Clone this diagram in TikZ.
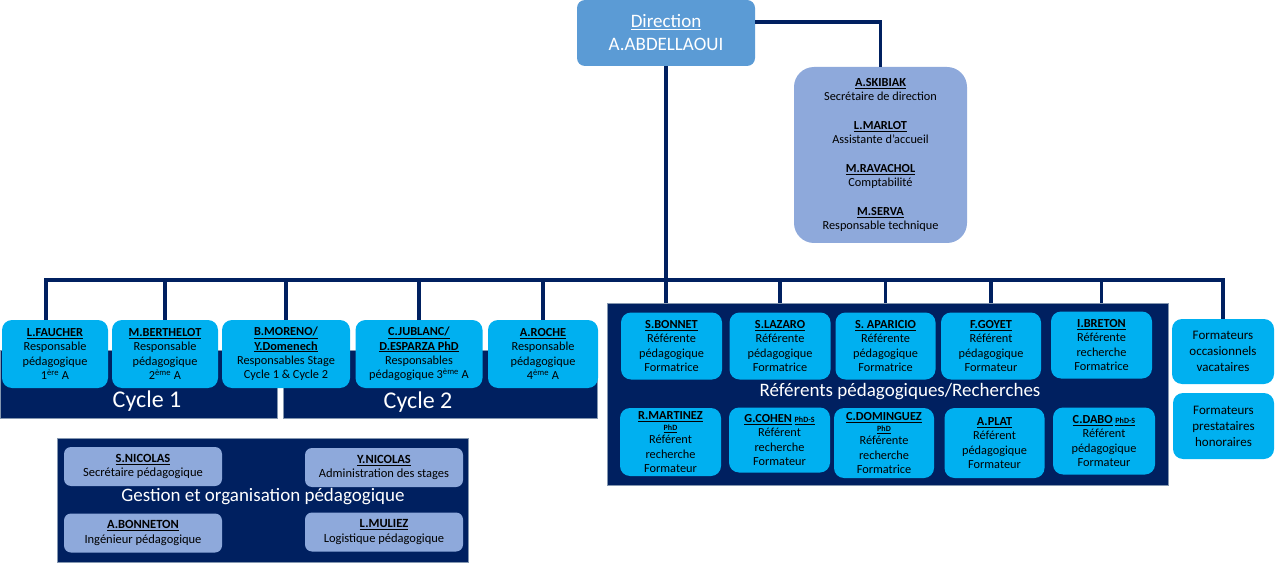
\documentclass[tikz,border=0pt]{standalone}
\usepackage{fontspec}
\setmainfont{Carlito}
\definecolor{navy}{HTML}{002060}
\definecolor{lblue}{HTML}{00B0F0}
\definecolor{dblue}{HTML}{5B9BD5}
\definecolor{pblue}{HTML}{8EA9DB}
\definecolor{pborder}{HTML}{8497B0}
\newcommand{\pname}[1]{\textbf{\underline{#1}}}
\newcommand{\tinyphd}[1]{{\fontsize{8}{9}\selectfont\textbf{\underline{#1}}}}
\begin{document}
\begin{tikzpicture}[x=1pt,y=-1pt,
  every node/.style={inner sep=0pt, outer sep=0pt},
  link/.style={draw=navy, line width=3.5pt},
  lbox/.style={fill=lblue, rounded corners=10pt, align=center, font=\fontsize{12.3}{14.3}\selectfont},
  fbox/.style={fill=lblue, rounded corners=10pt, align=center, font=\fontsize{13}{16}\selectfont},
  pbox/.style={fill=pblue, rounded corners=7pt, align=center, font=\fontsize{12.5}{14.5}\selectfont},
  panel/.style={fill=navy, draw=pborder, line width=0.8pt},
  ptitle/.style={text=white, font=\fontsize{19}{22}\selectfont},
  ctitle/.style={text=white, font=\fontsize{24}{28}\selectfont}]
\useasboundingbox (0,0) rectangle (1275,564);

% panels
\node[panel, minimum width=277pt, minimum height=68pt] (cyc1) at (138.5,384) {};
\node[panel, minimum width=314pt, minimum height=68pt] (cyc2) at (440,384) {};
\node[panel, minimum width=561pt, minimum height=182pt] (refp) at (887.5,394) {};
\node[panel, minimum width=411pt, minimum height=124pt] (gest) at (262.5,500) {};

% direction and secretary
\node[fill=dblue, rounded corners=8pt, minimum width=178pt, minimum height=66pt, align=center,
  text=white, font=\fontsize{19}{23}\selectfont] (dir) at (666,33) {\underline{Direction}\\A.ABDELLAOUI};
\node[fill=pblue, rounded corners=20pt, minimum width=173pt, minimum height=176pt, align=center,
  font=\fontsize{12.3}{14.5}\selectfont] (sec) at (880.5,155)
  {\pname{A.SKIBIAK}\\Secrétaire de direction\\[14pt]\pname{L.MARLOT}\\Assistante d’accueil\\[14pt]\pname{M.RAVACHOL}\\Comptabilité\\[14pt]\pname{M.SERVA}\\Responsable technique};

% cycle boxes
\node[lbox, minimum width=106pt, minimum height=68pt] (fau) at (55,354) {\pname{L.FAUCHER}\\Responsable\\pédagogique\\1\textsuperscript{ère} A};
\node[lbox, minimum width=106pt, minimum height=68pt] (ber) at (165,354) {\pname{M.BERTHELOT}\\Responsable\\pédagogique\\2\textsuperscript{ème} A};
\node[lbox, minimum width=128pt, minimum height=68pt] (mor) at (286,354) {\pname{B.MORENO/}\\\pname{Y.Domenech}\\Responsables Stage\\Cycle 1 \& Cycle 2};
\node[lbox, minimum width=127pt, minimum height=68pt] (jub) at (419,354) {\pname{C.JUBLANC/}\\\pname{D.ESPARZA PhD}\\Responsables\\pédagogique 3\textsuperscript{ème} A};
\node[lbox, minimum width=110pt, minimum height=68pt] (roc) at (543,354) {\pname{A.ROCHE}\\Responsable\\pédagogique\\4\textsuperscript{ème} A};
\node[ctitle] (c1t) at (147,401) {Cycle 1};
\node[ctitle] (c2t) at (418,402) {Cycle 2};

% referents top row
\node[lbox, minimum width=101pt, minimum height=67pt] (bon) at (671.5,346) {\pname{S.BONNET}\\Référente\\pédagogique\\Formatrice};
\node[lbox, minimum width=101pt, minimum height=67pt] (laz) at (780,346) {\pname{S.LAZARO}\\Référente\\pédagogique\\Formatrice};
\node[lbox, minimum width=100pt, minimum height=67pt] (apa) at (885.5,346) {\pname{S. APARICIO}\\Référente\\pédagogique\\Formatrice};
\node[lbox, minimum width=100pt, minimum height=67pt] (goy) at (991,346) {\pname{F.GOYET}\\Référent\\pédagogique\\Formateur};
\node[lbox, minimum width=101pt, minimum height=67pt] (bre) at (1101.5,345) {\pname{I.BRETON}\\Référente\\recherche\\Formatrice};
\node[ptitle] (reft) at (900,392) {Référents pédagogiques/Recherches};

% referents bottom row
\node[lbox, minimum width=101pt, minimum height=68pt] (mar) at (670.5,442) {\pname{R.MARTINEZ}\\[-3pt]\tinyphd{PhD}\\[-1pt]Référent\\recherche\\Formateur};
\node[lbox, minimum width=101pt, minimum height=65pt] (coh) at (779.5,440) {\pname{G.COHEN} \tinyphd{PhD-S}\\Référent\\recherche\\Formateur};
\node[lbox, minimum width=100pt, minimum height=70pt] (dom) at (884,443) {\pname{C.DOMINGUEZ}\\[-3pt]\tinyphd{PhD}\\[-1pt]Référente\\recherche\\Formatrice};
\node[lbox, minimum width=100pt, minimum height=70pt] (pla) at (994.5,443) {\pname{A.PLAT}\\Référent\\pédagogique\\Formateur};
\node[lbox, minimum width=102pt, minimum height=67pt] (dab) at (1104,441) {\pname{C.DABO} \tinyphd{PhD-S}\\Référent\\pédagogique\\Formateur};

% formateurs
\node[fbox, minimum width=102pt, minimum height=65pt] (occ) at (1223,351.5) {Formateurs\\occasionnels\\vacataires};
\node[fbox, minimum width=101pt, minimum height=66pt] (pre) at (1223.5,426) {Formateurs\\prestataires\\honoraires};

% gestion
\node[pbox, minimum width=158pt, minimum height=39pt] (sni) at (143,466.5) {\pname{S.NICOLAS}\\Secrétaire pédagogique};
\node[pbox, minimum width=158pt, minimum height=39pt] (yni) at (384,467.5) {\pname{Y.NICOLAS}\\Administration des stages};
\node[pbox, minimum width=158pt, minimum height=39pt] (bnt) at (143,533) {\pname{A.BONNETON}\\Ingénieur pédagogique};
\node[pbox, minimum width=158pt, minimum height=39pt] (mul) at (384,532) {\pname{L.MULIEZ}\\Logistique pédagogique};
\node[ptitle] (gt) at (263,497) {Gestion et organisation pédagogique};

% connectors
\coordinate (bus) at (667,280);
\coordinate (fdrop) at ([xshift=-9pt]fau.north);
\draw[link] ([yshift=11pt]dir.east) -| (sec.north);
\draw[link] (dir.south) -- (dir.south |- refp.north);
\draw[link, line join=miter] (fdrop) -- (fdrop |- bus) -- (occ.north |- bus) -- (occ.north);
\foreach \n in {ber,mor,jub,roc}{\draw[link] (\n.north |- bus) -- (\n.north);}
\foreach \n in {laz,apa,goy,bre}{\draw[link] (\n.north |- bus) -- (\n.north |- refp.north);}
\end{tikzpicture}
\end{document}
